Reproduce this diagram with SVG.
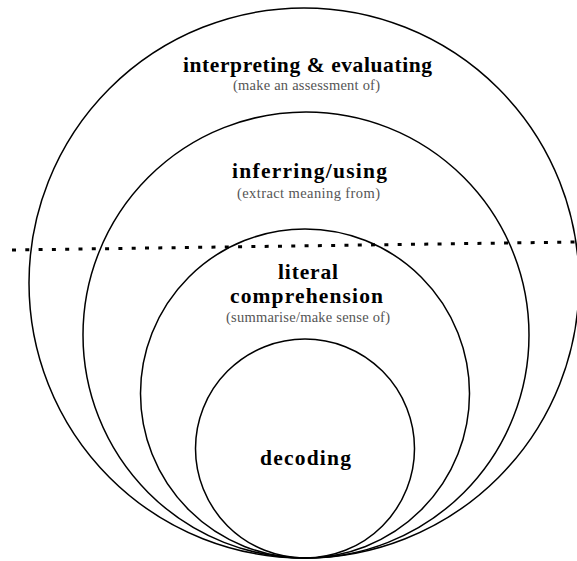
<svg xmlns="http://www.w3.org/2000/svg" width="577" height="561" viewBox="0 0 577 561">
<style>
.c{fill:none;stroke:#000;stroke-width:1.5}
.h{font-family:"Liberation Serif","Times New Roman",serif;font-weight:bold;font-size:21.5px;fill:#000;text-anchor:middle}
.s{font-family:"Liberation Serif","Times New Roman",serif;font-size:14.5px;fill:#555;text-anchor:middle}
.d{fill:none;stroke:#000;stroke-width:3;stroke-dasharray:4 9.3}
</style>
<rect width="577" height="561" fill="#fff"/>
<g id="interpreting">
<circle class="c" cx="304" cy="283" r="275"/>
<text class="h" x="307.5" y="72" textLength="249" lengthAdjust="spacing">interpreting &amp; evaluating</text>
<text class="s" x="306.5" y="90" textLength="147" lengthAdjust="spacing">(make an assessment of)</text>
</g>
<g id="inferring">
<circle class="c" cx="306" cy="335" r="223"/>
<text class="h" x="309.5" y="178" textLength="155" lengthAdjust="spacing">inferring/using</text>
<text class="s" x="308.5" y="198" textLength="143" lengthAdjust="spacing">(extract meaning from)</text>
</g>
<g id="literal">
<circle class="c" cx="305" cy="393.5" r="164.5"/>
<text class="h" x="308" y="279" textLength="60" lengthAdjust="spacing">literal</text>
<text class="h" x="306.5" y="303" textLength="153" lengthAdjust="spacing">comprehension</text>
<text class="s" x="308" y="322" textLength="164" lengthAdjust="spacing">(summarise/make sense of)</text>
</g>
<g id="decoding">
<circle class="c" cx="305" cy="448.5" r="109.5"/>
<text class="h" x="305.5" y="465" textLength="91" lengthAdjust="spacing">decoding</text>
</g>
<g id="connectors">
<line class="d" x1="12" y1="250" x2="577" y2="242"/>
</g>
</svg>
